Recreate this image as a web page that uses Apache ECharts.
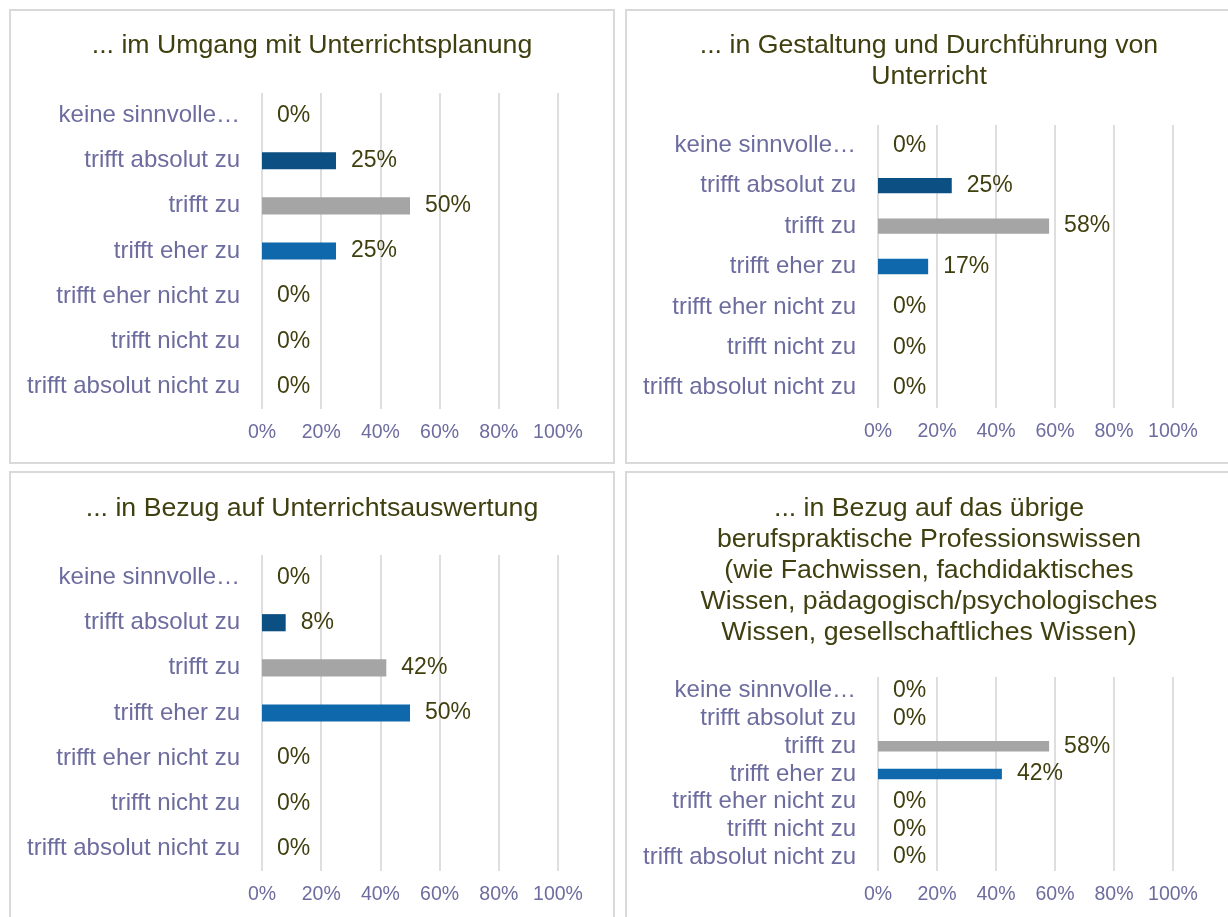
<!DOCTYPE html>
<html>
<head>
<meta charset="utf-8">
<script src="https://cdn.jsdelivr.net/npm/echarts@6/dist/echarts.min.js"></script>
<style>
  html, body { margin: 0; padding: 0; background: #fff; }
  #main { width: 1228px; height: 917px; }
</style>
</head>
<body>
<div id="main"></div>
<script>
// categories top -> bottom (y axis is inverted)
const categories = [
  'keine sinnvolle…',
  'trifft absolut zu',
  'trifft zu',
  'trifft eher zu',
  'trifft eher nicht zu',
  'trifft nicht zu',
  'trifft absolut nicht zu',
];
const planung = [0, 25, 50, 25, 0, 0, 0];
const gestaltung = [0, 25, 58, 17, 0, 0, 0];
const auswertung = [0, 8, 42, 50, 0, 0, 0];
const professionswissen = [0, 0, 58, 42, 0, 0, 0];
const xTicks = [0, 20, 40, 60, 80, 100];

const titles = [
  '... im Umgang mit Unterrichtsplanung',
  '... in Gestaltung und Durchführung von\nUnterricht',
  '... in Bezug auf Unterrichtsauswertung',
  '... in Bezug auf das übrige\nberufspraktische Professionswissen\n(wie Fachwissen, fachdidaktisches\nWissen, pädagogisch/psychologisches\nWissen, gesellschaftliches Wissen)',
];

const barColors = ['#a5a5a5', '#0b4f83', '#a5a5a5', '#0f68ac', '#0f68ac', '#0f68ac', '#0f68ac'];
const FONT = "'Liberation Sans', Arial, sans-serif";
const labelColor = '#6c6c9f';
const valueColor = '#3f3f10';

// panel boxes and plot areas
const panels = [
  { box: [10, 10, 604, 453], cx: 312, titleTop: 30, grid: { left: 262, top: 93, width: 296, height: 316 }, data: planung },
  { box: [626, 10, 620, 453], cx: 929, titleTop: 30, grid: { left: 878, top: 125, width: 295, height: 283 }, data: gestaltung },
  { box: [10, 472, 604, 460], cx: 312, titleTop: 493, grid: { left: 262, top: 555, width: 296, height: 316 }, data: auswertung },
  { box: [626, 472, 620, 460], cx: 929, titleTop: 493, grid: { left: 878, top: 677, width: 295, height: 194 }, data: professionswissen },
];

const chart = echarts.init(document.getElementById('main'));

const graphics = [];
panels.forEach((p, i) => {
  graphics.push({
    type: 'rect',
    shape: { x: p.box[0], y: p.box[1], width: p.box[2], height: p.box[3] },
    style: { fill: 'none', stroke: '#d9d9d9', lineWidth: 2 },
    silent: true,
  });
  graphics.push({
    type: 'text',
    x: p.cx,
    y: p.titleTop,
    style: {
      text: titles[i],
      fill: valueColor,
      font: '26.7px ' + FONT,
      align: 'center',
      verticalAlign: 'top',
      lineHeight: 31,
    },
    silent: true,
  });
});

chart.setOption({
  animation: false,
  textStyle: { fontFamily: FONT },
  graphic: graphics,
  grid: panels.map((p) => ({ ...p.grid })),
  xAxis: panels.map((p, i) => ({
    type: 'value',
    gridIndex: i,
    min: xTicks[0],
    max: xTicks[xTicks.length - 1],
    interval: 20,
    axisLine: { show: false },
    axisTick: { show: false },
    splitLine: { lineStyle: { color: '#dedede', width: 2 } },
    axisLabel: {
      formatter: '{value}%',
      color: labelColor,
      fontSize: 19.5,
      margin: 14,
      fontFamily: FONT,
    },
  })),
  yAxis: panels.map((p, i) => ({
    type: 'category',
    gridIndex: i,
    inverse: true,
    data: categories,
    axisLine: { show: false },
    axisTick: { show: false },
    axisLabel: {
      interval: 0,
      color: labelColor,
      fontSize: 24,
      margin: 22,
      fontFamily: FONT,
    },
  })),
  series: panels.map((p, i) => ({
    type: 'bar',
    xAxisIndex: i,
    yAxisIndex: i,
    barWidth: '38%',
    data: p.data.map((v, k) => ({ value: v, itemStyle: { color: barColors[k] } })),
    label: {
      show: true,
      position: 'right',
      distance: 15,
      formatter: '{c}%',
      color: valueColor,
      fontSize: 23,
      fontFamily: FONT,
    },
  })),
});
</script>
</body>
</html>
